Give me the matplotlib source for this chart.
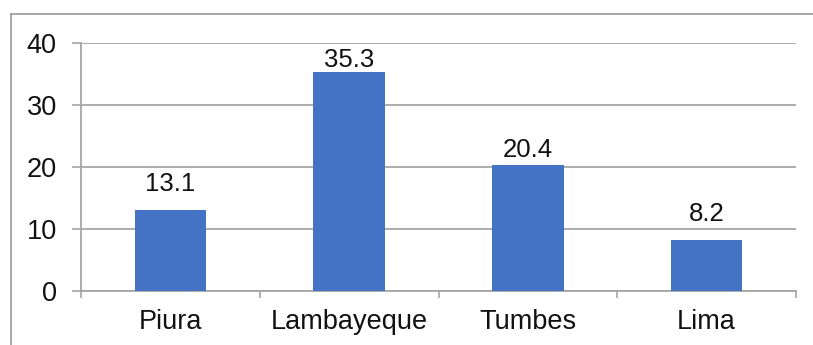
import matplotlib.pyplot as plt
from matplotlib.lines import Line2D
import numpy as np

# Data
regiones = ["Piura", "Lambayeque", "Tumbes", "Lima"]
valores = [13.1, 35.3, 20.4, 8.2]
# vertical offset (points) of each value label above its bar
desfase = [10, 0, 2, 10]

plt.rcParams['font.family'] = ['Liberation Sans', 'DejaVu Sans']

fig = plt.figure(figsize=(8.13, 3.45), dpi=100)
ax = fig.add_axes([81 / 813, 1 - 291 / 345, (796 - 81) / 813, (291 - 43) / 345])

x = np.arange(len(regiones))
barras = ax.bar(x, valores, width=0.4, color="#4472C4", zorder=3)

for xi, v, d in zip(x, valores, desfase):
    ax.annotate(f"{v}", (xi, v), xytext=(0, d), textcoords="offset points",
                ha="center", va="bottom", fontsize=18.5, color="#111111")

ax.set_xlim(-0.5, len(regiones) - 0.5)
ax.set_ylim(0, 40)
ax.set_yticks([0, 10, 20, 30, 40])
ax.grid(axis="y", color="#A6A6A6", linewidth=1.3, zorder=0)

ax.set_xticks(x)
ax.set_xticklabels(regiones)
ax.set_xticks(np.arange(len(regiones) + 1) - 0.5, minor=True)
ax.tick_params(axis="x", which="major", length=0, pad=13, labelsize=19.5, labelcolor="#111111")
ax.tick_params(axis="x", which="minor", length=5, width=1.2, color="#A6A6A6")
ax.tick_params(axis="y", length=6.5, width=1.2, color="#A6A6A6", pad=11, labelsize=19.5, labelcolor="#111111")

for s in ["top", "right"]:
    ax.spines[s].set_visible(False)
for s in ["left", "bottom"]:
    ax.spines[s].set_color("#A6A6A6")
    ax.spines[s].set_linewidth(1.3)

# chart frame (top and left edges)
fig.add_artist(Line2D([11 / 813, 1], [1 - 14 / 345, 1 - 14 / 345], color="#A0A0A0", linewidth=1.3))
fig.add_artist(Line2D([11 / 813, 11 / 813], [0, 1 - 14 / 345], color="#A0A0A0", linewidth=1.3))

plt.savefig("out.png", dpi=100)
